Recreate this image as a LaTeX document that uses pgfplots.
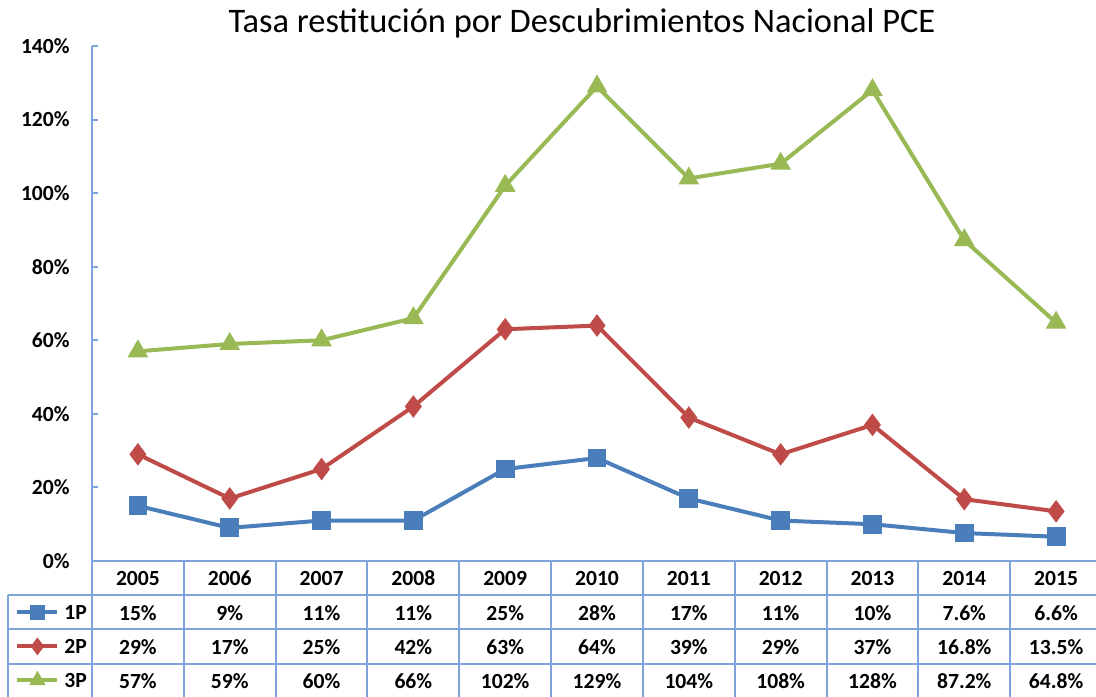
\documentclass[border=0pt]{standalone}
\usepackage{fontspec}
\setmainfont{Carlito}
\usepackage{pgfplots}
\usepackage{pgfplotstable}
\pgfplotsset{compat=1.18}

\definecolor{cOne}{HTML}{4A7EBB}
\definecolor{cTwo}{HTML}{BE4B48}
\definecolor{cThree}{HTML}{98B954}
\definecolor{cGrid}{HTML}{7DA3D8}

% tasa de restitucion, %
\pgfplotstableread{
x  p1   p2    p3
0  15   29    57
1  9    17    59
2  11   25    60
3  11   42    66
4  25   63    102
5  28   64    129
6  17   39    104
7  11   29    108
8  10   37    128
9  7.6  16.8  87.2
10 6.6  13.5  64.8
}\datatab

\newcommand{\tabfont}{\fontsize{10.8}{12}\selectfont\bfseries}

\begin{document}
\begin{tikzpicture}
\begin{axis}[
  scale only axis, width=505pt, height=257.5pt,
  xmin=-0.5, xmax=10.5, ymin=0, ymax=140,
  axis x line=bottom, axis y line=left,
  axis line style={-, draw=cGrid, line width=1pt},
  xtick={0,...,10},
  xticklabels={2005,2006,2007,2008,2009,2010,2011,2012,2013,2014,2015},
  major x tick style={draw=none},
  ytick={0,20,...,140},
  yticklabels={0\%,20\%,40\%,60\%,80\%,100\%,120\%,140\%},
  tick align=inside, major tick length=3pt,
  y tick style={draw=cGrid, line width=1pt},
  ticklabel style={font=\tabfont},
  xticklabel style={anchor=center, inner sep=0pt, yshift=-8.5pt},
  yticklabel style={anchor=east, inner sep=0pt, xshift=-11pt},
  clip=false,
  legend style={draw=none, fill=none, at={(-0.0762,-0.0854)}, anchor=north west,
    row sep=10pt, inner sep=0pt, font=\tabfont,
    nodes={inner sep=0pt, text height=7pt, text depth=0pt},
    /tikz/every odd column/.append style={column sep=2.5pt}},
  legend cell align=left,
  legend image code/.code={
    \draw[mark repeat=2, mark phase=2, #1, mark size=2.8pt] plot coordinates {(0pt,0pt) (10pt,0pt) (20pt,0pt)};},
]
% rejilla de la tabla de datos
\pgfplotsinvokeforeach{-0.5,0.5,1.5,2.5,3.5,4.5,5.5,6.5,7.5,8.5,9.5,10.5}{
  \draw[cGrid, line width=1pt] (axis cs:#1,0) -- (axis cs:#1,-38);
}
\draw[cGrid, line width=1pt] (axis cs:-1.415,-9.24) -- (axis cs:-1.415,-38);
\draw[cGrid, line width=1pt] (axis cs:-1.415,-9.24) -- (axis cs:10.5,-9.24);
\draw[cGrid, line width=1pt] (axis cs:-1.415,-18.48) -- (axis cs:10.5,-18.48);
\draw[cGrid, line width=1pt] (axis cs:-1.415,-28.0) -- (axis cs:10.5,-28.0);

\addplot[cOne, line width=2pt, mark=square*, mark size=3.7pt, mark options={solid, fill=cOne}]
  table[x=x, y=p1] {\datatab};
\addlegendentry{1P}
\addplot[cTwo, line width=2pt, mark=diamond*, mark size=4pt, mark options={solid, fill=cTwo}]
  table[x=x, y=p2] {\datatab};
\addlegendentry{2P}
\addplot[cThree, line width=2pt, mark=triangle*, mark size=4pt, mark options={solid, fill=cThree}]
  table[x=x, y=p3] {\datatab};
\addlegendentry{3P}

% valores de la tabla
\pgfplotsset{tabrow/.style={draw=none, mark=none, forget plot, point meta=explicit,
  nodes near coords={\pgfmathprintnumber[assume math mode=true]{\pgfplotspointmeta}\%},
  every node near coord/.append style={anchor=center, inner sep=0pt, font=\tabfont, text=black}}}
\addplot[tabrow] table[x=x, y expr=-14.1, meta=p1] {\datatab};
\addplot[tabrow] table[x=x, y expr=-23.4, meta=p2] {\datatab};
\addplot[tabrow] table[x=x, y expr=-32.6, meta=p3] {\datatab};
\end{axis}
\node[font=\fontsize{17.2}{20}\selectfont] at (245pt,269pt)
  {Tasa restitución por Descubrimientos Nacional PCE};
\pgfresetboundingbox
\path (-46pt,-67.5pt) rectangle (502pt,280.5pt);
\end{tikzpicture}
\end{document}
